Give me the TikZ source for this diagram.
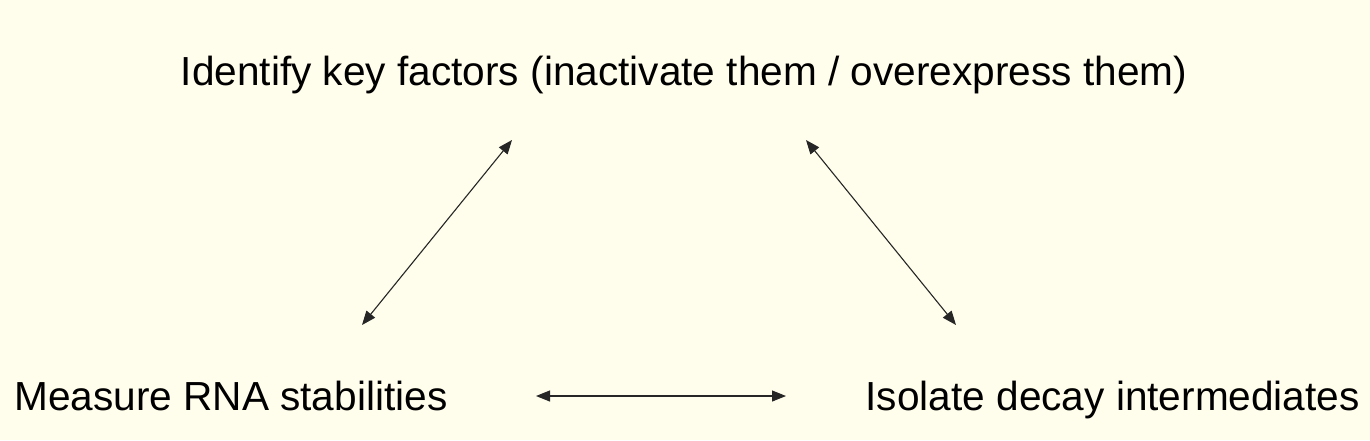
\documentclass[tikz,border=0pt]{standalone}
\usepackage{fontspec}
\setmainfont{Liberation Sans}
\usetikzlibrary{arrows.meta}
\definecolor{bgcream}{HTML}{FFFDEB}
\tikzset{
  lbl/.style={inner sep=0pt, font=\fontsize{40.6}{46}\selectfont, text=black},
  dblarrow/.style={{Triangle[length=14pt,width=11pt]}-{Triangle[length=14pt,width=11pt]}, line width=1.1pt, draw=black!85}
}
\begin{document}
\begin{tikzpicture}[x=1pt,y=-1pt]
\fill[bgcream] (0,0) rectangle (1370,440);
\useasboundingbox (0,0) rectangle (1370,440);
\node[lbl, anchor=base] (top) at (684,85) {Identify key factors (inactivate them / overexpress them)};
\node[lbl, anchor=base west] (left) at (14,410) {Measure RNA stabilities};
\node[lbl, anchor=base east] (right) at (1360,410) {Isolate decay intermediates};
\coordinate (l1) at (362,325);
\coordinate (l2) at (512,140);
\coordinate (r1) at (806,140);
\coordinate (r2) at (956,325);
\coordinate (h1) at (536,396);
\coordinate (h2) at (786,396);
\draw[dblarrow] (l1) -- (l2);
\draw[dblarrow] (r1) -- (r2);
\draw[dblarrow] (h1) -- (h2);
\end{tikzpicture}
\end{document}
